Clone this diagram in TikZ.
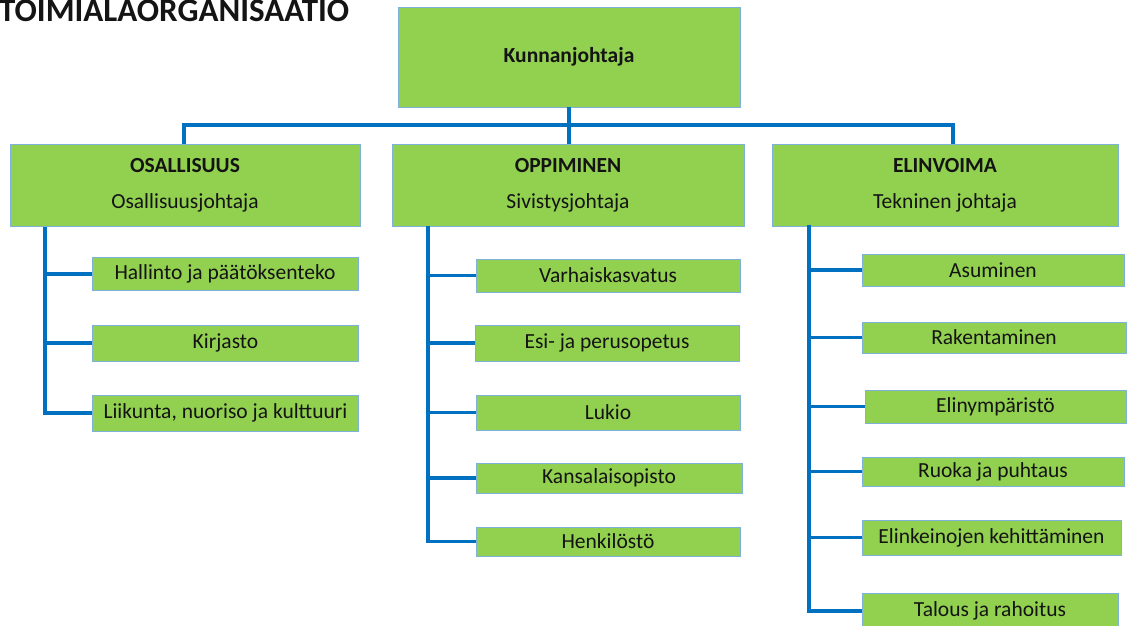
\documentclass[tikz,border=0pt]{standalone}
\usepackage{fontspec}
\setmainfont{Carlito}
\definecolor{boxgreen}{HTML}{92D050}
\definecolor{boxline}{HTML}{7FB2D9}
\definecolor{conn}{HTML}{0070C0}
\definecolor{txt}{HTML}{141414}
\begin{document}
\begin{tikzpicture}[x=1pt,y=-1pt,
  box/.style={draw=boxline,line width=0.8pt,fill=boxgreen,text=txt,inner sep=0pt,
    font=\fontsize{21.5}{26}\selectfont,align=center},
  headbox/.style={box,minimum width=#1,minimum height=82pt},
  childbox/.style={box,minimum width=#1},
  link/.style={draw=conn,line width=3.2pt}]
\useasboundingbox (0,0) rectangle (1128,625);
\node[anchor=base west,inner sep=0pt,text=txt,font=\fontsize{33}{36}\selectfont\bfseries] (title) at (-1,21) {TOIMIALAORGANISAATIO};

\node[box,minimum width=342pt,minimum height=100pt,font=\fontsize{21.5}{26}\selectfont\bfseries] (top) at (569,57) {Kunnanjohtaja};

\node[headbox=350pt] (osa) at (185,185) {\textbf{OSALLISUUS}\\[10pt]Osallisuusjohtaja};
\node[headbox=352pt] (opp) at (568,185) {\textbf{OPPIMINEN}\\[10pt]Sivistysjohtaja};
\node[headbox=346pt] (eli) at (945,185) {\textbf{ELINVOIMA}\\[10pt]Tekninen johtaja};

\coordinate (bus) at (569,125);
\draw[link] (top.south) -- (bus);
\draw[link] ([xshift=-1pt]osa.north) |- (bus) -| ([xshift=8pt]eli.north);
\draw[link] (bus) -- ([xshift=1pt]opp.north);

% OSALLISUUS children
\node[childbox=266pt,minimum height=33pt] (o1) at (225,274) {Hallinto ja päätöksenteko};
\node[childbox=266pt,minimum height=36pt] (o2) at (225.5,343) {Kirjasto};
\node[childbox=266pt,minimum height=36pt] (o3) at (225.5,413) {Liikunta, nuoriso ja kulttuuri};
\coordinate (oT) at (45,227);
\draw[link] (oT) |- (o3.west);
\draw[link] (o1.west) -- (o1.west -| oT);
\draw[link] (o2.west) -- (o2.west -| oT);

% OPPIMINEN children
\node[childbox=264pt,minimum height=33pt] (p1) at (608,275.5) {Varhaiskasvatus};
\node[childbox=264pt,minimum height=36pt] (p2) at (607,343) {Esi- ja perusopetus};
\node[childbox=264pt,minimum height=35pt] (p3) at (608,412.5) {Lukio};
\node[childbox=266pt,minimum height=30pt] (p4) at (609,478) {Kansalaisopisto};
\node[childbox=264pt,minimum height=29pt] (p5) at (608,541.5) {Henkilöstö};
\coordinate (pT) at (428,226);
\draw[link] (pT) |- (p5.west);
\draw[link] (p1.west) -- (p1.west -| pT);
\draw[link] (p2.west) -- (p2.west -| pT);
\draw[link] (p3.west) -- (p3.west -| pT);
\draw[link] (p4.west) -- (p4.west -| pT);

% ELINVOIMA children
\node[childbox=262pt,minimum height=32pt] (e1) at (993,270) {Asuminen};
\node[childbox=264pt,minimum height=31pt] (e2) at (994,337.5) {Rakentaminen};
\node[childbox=261pt,minimum height=33pt] (e3) at (995.5,406.5) {Elinympäristö};
\node[childbox=262pt,minimum height=29pt] (e4) at (993,471.5) {Ruoka ja puhtaus};
\node[childbox=259pt,minimum height=35pt] (e5) at (991.5,537.5) {Elinkeinojen kehittäminen};
\node[childbox=256pt,minimum height=36pt] (e6) at (990,611) {Talous ja rahoitus};
\coordinate (eT) at (809,225);
\draw[link] (eT) |- (e6.west);
\draw[link] (e1.west) -- (e1.west -| eT);
\draw[link] (e2.west) -- (e2.west -| eT);
\draw[link] (e3.west) -- (e3.west -| eT);
\draw[link] (e4.west) -- (e4.west -| eT);
\draw[link] (e5.west) -- (e5.west -| eT);
\end{tikzpicture}
\end{document}
